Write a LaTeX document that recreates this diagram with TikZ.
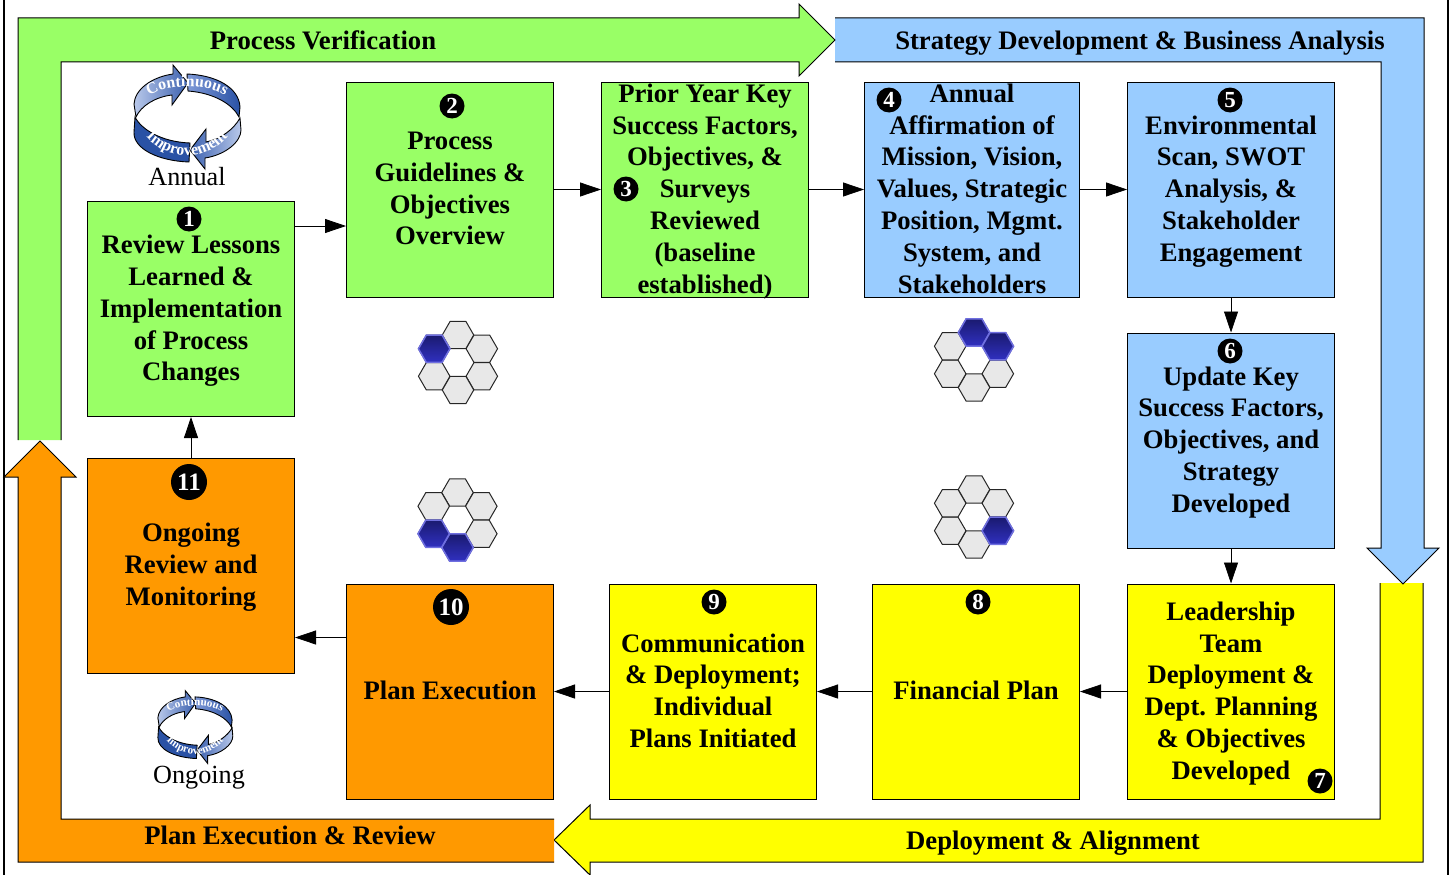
\documentclass[tikz,border=0pt]{standalone}
\usepackage{fontspec}
\setmainfont{Liberation Serif}
\usepackage{xcolor}
\usetikzlibrary{arrows.meta,calc,shapes.geometric,decorations.text}
\definecolor{stagegreen}{HTML}{99FF66}
\definecolor{stageblue}{HTML}{99CCFF}
\definecolor{stageorange}{HTML}{FF9900}
\definecolor{stageyellow}{HTML}{FFFF00}
\definecolor{loopdark}{HTML}{2A52A5}
\definecolor{loopmid}{HTML}{7F9AD8}
\definecolor{looplight}{HTML}{B8C8EA}
\definecolor{hexgrey}{HTML}{E8E8E8}
\definecolor{hexdark}{HTML}{1A1A70}
\definecolor{hexblue}{HTML}{3030C0}
\definecolor{hexedge}{HTML}{6F6FE0}

\begin{document}
\begin{tikzpicture}
  [x=1pt,y=-1pt,line width=1pt,
   box/.style={draw=black,minimum width=207pt,minimum height=215pt,inner sep=0pt,align=center,
     text depth=2pt,font=\fontsize{26.7}{31.8}\selectfont\bfseries},
   badge/.style={circle,fill=black,text=white,inner sep=0pt,minimum size=25pt,
     font=\fontsize{23}{23}\selectfont\bfseries},
   bigbadge/.style={badge,minimum size=36pt,font=\fontsize{25}{25}\selectfont\bfseries},
   band/.style={inner sep=0pt,text height=23.4pt,text depth=8.4pt,
     font=\fontsize{26.7}{31.8}\selectfont\bfseries},
   caption/.style={inner sep=0pt,font=\fontsize{26.2}{30}\selectfont},
   flow/.style={line width=.8pt,-{Triangle[length=21pt,width=14pt]}},
   hexoff/.style={regular polygon,regular polygon sides=6,minimum size=31.5pt,inner sep=0pt,
     draw=black!85,fill=hexgrey},
   hexon/.style={hexoff,draw=hexedge,line width=1.5pt,top color=hexdark,bottom color=hexblue}]
  \useasboundingbox (0,0) rectangle (1456,875);

  % page rules
  \draw[line width=1.5pt] (4,0) -- (4,875);
  \draw[line width=1.5pt] (1448,0) -- (1448,875);

  % wide arrows round the outside
  \filldraw[fill=stageyellow] (1380,583) -- (1380,819) -- (590,819) -- (590,805) -- (554,840)
    -- (590,875) -- (590,862) -- (1423,862) -- (1423,583);
  \filldraw[fill=stageblue] (835,18) -- (1424,18) -- (1424,548) -- (1439,548) -- (1403,584)
    -- (1367,548) -- (1381,548) -- (1381,62) -- (835,62);
  \filldraw[fill=stagegreen] (18,440) -- (18,18) -- (799,18) -- (799,4) -- (835,40) -- (799,76)
    -- (799,62) -- (61,62) -- (61,440);
  \filldraw[fill=stageorange] (554,862) -- (18,862) -- (18,477) -- (4,477) -- (40,441) -- (76,477)
    -- (61,477) -- (61,819) -- (554,819);

  \node[band] (verify) at (323,42) {Process Verification};
  \node[band] (strategy) at (1140,41.5) {Strategy Development \& Business Analysis};
  \node[band] (deploy) at (1053,841.6) {Deployment \& Alignment};
  \node[band] (execute) at (290,837) {Plan Execution \& Review};

  % boxes
  \node[box,fill=stagegreen] (n1) at (191,309) {Review Lessons\\Learned \&\\Implementation\\of Process\\Changes};
  \node[box,fill=stagegreen] (n2) at (450,189.5) {Process\\Guidelines \&\\Objectives\\Overview};
  \node[box,fill=stagegreen] (n3) at (705,189.5) {Prior Year Key\\Success Factors,\\Objectives, \&\\Surveys\\Reviewed\\(baseline\\established)};
  \node[box,fill=stageblue,minimum width=215pt] (n4) at (972,189.5) {Annual\\Affirmation of\\Mission, Vision,\\Values, Strategic\\Position, Mgmt.\\System, and\\Stakeholders};
  \node[box,fill=stageblue] (n5) at (1231,189.5) {Environmental\\Scan, SWOT\\Analysis, \&\\Stakeholder\\Engagement};
  \node[box,fill=stageblue] (n6) at (1231,440.5) {Update Key\\Success Factors,\\Objectives, and\\Strategy\\Developed};
  \node[box,fill=stageyellow] (n7) at (1231,691.5) {Leadership\\Team\\Deployment \&\\Dept. Planning\\\& Objectives\\Developed};
  \node[box,fill=stageyellow] (n8) at (976,691.5) {Financial Plan};
  \node[box,fill=stageyellow] (n9) at (713,691.5) {Communication\\\& Deployment;\\Individual\\Plans Initiated};
  \node[box,fill=stageorange] (n10) at (450,691.5) {Plan Execution};
  \node[box,fill=stageorange] (n11) at (191,565.5) {Ongoing\\Review and\\Monitoring};

  % numbers
  \foreach \name/\hx/\hy/\num in {b1/189/219/1,b2/452/106/2,b3/626/189/3,b4/889/100/4,b5/1230/100/5,
      b6/1230/351/6,b7/1320/781/7,b8/978/602/8,b9/714/602/9}
    \node[badge] (\name) at (\hx,\hy) {\num};
  \node[bigbadge] (b10) at (451,607) {10};
  \node[bigbadge] (b11) at (189,482) {11};

  \foreach \from/\to in {n2/n3,n3/n4,n4/n5,n5/n6,n6/n7,n7/n8,n8/n9,n9/n10,n11/n1}
    \draw[flow] (\from) -- (\to);
  \draw[flow] (n1.east |- 0,226) -- (n2.west |- 0,226);
  \draw[flow] (n10.west |- 0,637.5) -- (n11.east |- 0,637.5);

  % honeycombs
  \foreach \c/\hx/\hy/\hon in {a/458/362.5/{6},b/457.5/520/{4,5},c/974/360/{1,2},d/974/517/{3}} {
    \foreach \i in {1,...,6}
      \node[hexoff] (hex\c\i) at ($(\hx,\hy)+({60*\i-150}:27.5)$) {};
    \foreach \i in \hon
      \node[hexon] (hon\c\i) at ($(\hx,\hy)+({60*\i-150}:27.5)$) {};
  }

  % improvement loops
  \foreach \cx/\cy/\cs/\cf in {187/117/1/16,195/727/.7/11.2} {
    \begin{scope}[shift={(\cx,\cy)},scale=\cs,line width=.9pt]
      \draw[left color=loopmid,right color=loopdark] (0,-43) .. controls (28,-42) and (52,-30) .. (53,-10)
        -- (52,0) .. controls (46,-12) and (28,-24) .. (1,-26) -- cycle;
      \draw[left color=looplight,right color=loopdark!80!loopmid] (-51,0) .. controls (-46,-11) and (-32,-20) .. (-15,-22)
        -- (-15,-12) -- (1,-34) -- (-14,-52) -- (-14,-43) .. controls (-35,-40) and (-52,-28) .. (-53,-13) -- cycle;
      \draw[fill=loopdark] (-52,0) .. controls (-46,12) and (-26,25) .. (3,26)
        -- (2,45) .. controls (-28,44) and (-54,32) .. (-53,15) -- cycle;
      \draw[left color=loopdark!80!loopmid,right color=looplight] (53,1) .. controls (47,12) and (34,22) .. (19,25)
        -- (19,12) -- (3,33) -- (18,52) -- (18,41) .. controls (38,38) and (54,25) .. (54,13) -- cycle;
      \path[decorate,decoration={text along path,text align=center,
          text={|\fontsize{\cf}{\cf}\selectfont\bfseries\color{white}|Continuous}}]
        (-40,-20) .. controls (-22,-34) and (22,-34) .. (40,-20);
      \path[decorate,decoration={text along path,text align=center,
          text={|\fontsize{\cf}{\cf}\selectfont\bfseries\color{white}|Improvement}}]
        (-43,17) .. controls (-20,46) and (20,46) .. (43,17);
    \end{scope}
  }
  \node[caption] (annual) at (187,177) {Annual};
  \node[caption] (ongoing) at (199,778) {Ongoing};
\end{tikzpicture}
\end{document}
